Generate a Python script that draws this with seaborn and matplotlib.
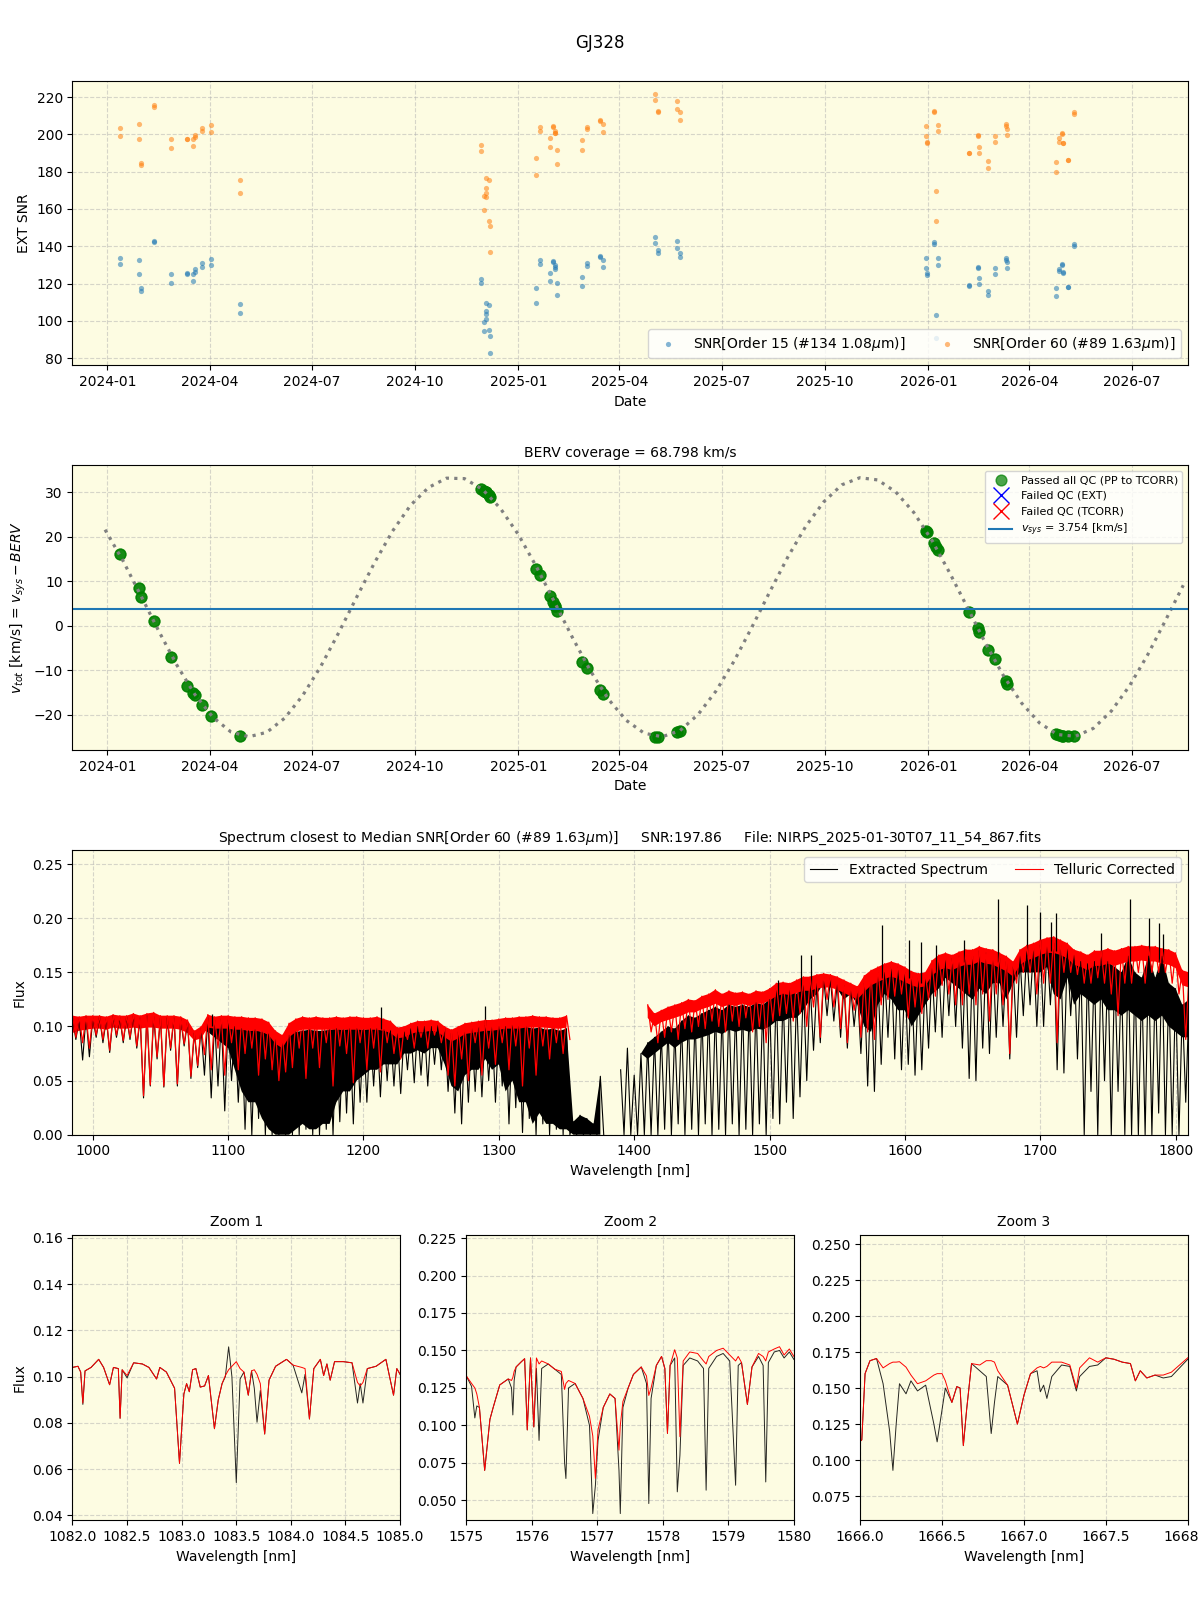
import matplotlib
matplotlib.use('Agg')
import matplotlib.pyplot as plt
import matplotlib.dates as mdates
import numpy as np
import pandas as pd
import seaborn as sns

nan = np.nan

# ---- observations, one entry per exposure ----
obs_dates = ['2024-01-12', '2024-01-12', '2024-01-29', '2024-01-29', '2024-01-31', '2024-01-31',
             '2024-02-12', '2024-02-12', '2024-02-27', '2024-02-27', '2024-03-12', '2024-03-12',
             '2024-03-17', '2024-03-17', '2024-03-19', '2024-03-19', '2024-03-25', '2024-03-25',
             '2024-04-02', '2024-04-02', '2024-04-28', '2024-04-28',
             '2024-11-29', '2024-11-29', '2024-12-01', '2024-12-01', '2024-12-03', '2024-12-03',
             '2024-12-03', '2024-12-03', '2024-12-06', '2024-12-06', '2024-12-07', '2024-12-07',
             '2025-01-17', '2025-01-17', '2025-01-20', '2025-01-20', '2025-01-29', '2025-01-29',
             '2025-02-01', '2025-02-01', '2025-02-03', '2025-02-03', '2025-02-03', '2025-02-04',
             '2025-02-04', '2025-02-27', '2025-02-27', '2025-03-03', '2025-03-03', '2025-03-15',
             '2025-03-15', '2025-03-17', '2025-03-17',
             '2025-05-03', '2025-05-03', '2025-05-05', '2025-05-05', '2025-05-22', '2025-05-22',
             '2025-05-25', '2025-05-25',
             '2025-12-30', '2025-12-30', '2025-12-31', '2025-12-31', '2026-01-06', '2026-01-06',
             '2026-01-08', '2026-01-08', '2026-01-10', '2026-01-10',
             '2026-02-06', '2026-02-06', '2026-02-14', '2026-02-14', '2026-02-15', '2026-02-15',
             '2026-02-23', '2026-02-23', '2026-03-01', '2026-03-01', '2026-03-11', '2026-03-11',
             '2026-03-12', '2026-03-12',
             '2026-04-25', '2026-04-25', '2026-04-27', '2026-04-27', '2026-04-30', '2026-04-30',
             '2026-05-01', '2026-05-01', '2026-05-05', '2026-05-05', '2026-05-11', '2026-05-11']

snr_order15 = [133.8, 130.5, 132.7, 125.2, 117.7, 116.1, 142.7, 142.3, 125.2, 120.4, 125.7, 125.4,
               125.2, 121.4, 126.4, 127.9, 131.1, 128.9, 133.2, 130.0, 109.1, 104.3,
               122.7, 120.4, 99.6, 94.4, 109.8, 105.5, 103.6, 101.2, 108.6, 95.2, 92.0, 82.9,
               117.7, 109.6, 132.7, 130.5, 125.7, 121.4, 132.1, 131.4, 129.8, 128.8, 128.0, 120.4,
               113.9, 123.6, 118.8, 130.9, 129.5, 134.6, 134.1, 132.7, 128.9,
               145.0, 141.8, 138.2, 136.4, 142.9, 139.1, 136.4, 134.5,
               133.8, 128.4, 125.7, 124.6, 142.3, 141.4, 103.2, 90.9, 133.8, 130.0,
               119.3, 118.8, 128.9, 128.4, 123.0, 119.8, 115.9, 113.8, 128.4, 125.2, 133.8, 132.7,
               131.4, 128.4,
               117.7, 113.4, 127.9, 126.8, 130.5, 129.8, 126.1, 125.7, 118.4, 118.0, 141.3, 140.2]

snr_order60 = [203.4, 199.1, 205.5, 197.5, 184.8, 183.6, 215.9, 214.8, 197.5, 192.7, 197.5, 197.5,
               197.5, 193.8, 199.8, 198.7, 203.4, 201.6, 205.0, 201.3, 175.5, 168.6,
               194.3, 191.1, 167.0, 159.5, 176.6, 171.3, 168.4, 166.4, 175.7, 153.8, 150.9, 137.0,
               187.3, 178.2, 204.1, 201.8, 198.0, 193.2, 204.5, 203.8, 201.6, 200.9, 200.5, 191.6,
               184.1, 197.0, 191.6, 204.1, 202.9, 207.9, 207.3, 205.5, 201.3,
               221.6, 218.4, 212.5, 212.0, 217.9, 213.6, 212.0, 207.7,
               204.5, 199.1, 195.9, 195.5, 212.5, 212.0, 169.6, 153.6, 205.0, 201.6,
               190.2, 190.0, 199.6, 199.1, 193.2, 190.2, 185.7, 182.0, 199.1, 195.9, 205.5, 204.6,
               202.9, 199.6,
               185.2, 179.8, 198.0, 195.9, 200.7, 200.2, 195.5, 195.2, 186.3, 186.0, 212.0, 210.9]

v_tot = [16.2, 16.2, 8.4, 8.4, 6.5, 6.5, 1.1, 1.1, -7.0, -7.0, -13.5, -13.5,
         -15.1, -15.1, -15.6, -15.6, -17.8, -17.8, -20.3, -20.3, -24.8, -24.8,
         30.7, 30.7, 30.3, 30.3, 30.0, 30.0, 30.0, 30.0, 29.4, 29.4, 28.9, 28.9,
         12.7, 12.7, 11.4, 11.4, 6.6, 6.6, 5.3, 5.3, 4.4, 4.4, 4.4, 3.4,
         3.4, -8.2, -8.2, -9.5, -9.5, -14.5, -14.5, -15.3, -15.3,
         -25.0, -25.0, -25.1, -25.1, -23.9, -23.9, -23.6, -23.6,
         21.4, 21.4, 21.0, 21.0, 18.5, 18.5, 17.6, 17.6, 17.0, 17.0,
         3.1, 3.1, -0.5, -0.5, -1.4, -1.4, -5.4, -5.4, -7.4, -7.4, -12.5, -12.5,
         -13.2, -13.2,
         -24.4, -24.4, -24.5, -24.5, -24.8, -24.8, -24.8, -24.8, -24.9, -24.9, -24.8, -24.8]

# BERV model curve, one value every 16 days from 2023-12-30
berv_curve = [21.6, 14.6, 6.7, -1.3, -8.9, -15.5, -20.6, -23.9, -25.0, -24.0,
              -20.8, -15.7, -9.2, -1.6, 6.4, 14.2, 21.3, 27.1, 31.1, 33.2,
              33.1, 30.7, 26.4, 20.5, 13.3, 5.4, -2.6, -10.1, -16.5, -21.3,
              -24.2, -25.0, -23.6, -20.0, -14.7, -8.0, -0.3, 7.7, 15.5, 22.4,
              27.9, 31.7, 33.3, 32.8, 30.1, 25.5, 19.3, 11.9, 4.0, -4.0,
              -11.3, -17.4, -21.9, -24.5, -24.9, -23.1, -19.2, -13.6, -6.7, 1.1,
              9.1]
v_sys = 3.754

# ---- spectrum closest to median SNR, read on 5 nm knots ----
# upper = top of the band, core = bottom of the dense part, lower = deepest line
spec_knots = np.arange(985, 1811, 5)
ext_upper = [0.108, 0.107, 0.109, 0.108, 0.109, 0.107, 0.110, 0.108, 0.109, 0.110,
             0.108, 0.110, 0.109, 0.108, 0.108, 0.108, 0.107, 0.104, 0.094, 0.098,
             0.108, 0.106, 0.107, 0.106, 0.100, 0.098, 0.096, 0.097, 0.095, 0.093,
             0.088, 0.085, 0.092, 0.095, 0.096, 0.097, 0.096, 0.096, 0.097, 0.098,
             0.097, 0.098, 0.098, 0.097, 0.098, 0.098, 0.097, 0.096, 0.094, 0.095,
             0.098, 0.100, 0.100, 0.100, 0.101, 0.098, 0.094, 0.095, 0.097, 0.099,
             0.100, 0.101, 0.100, 0.100, 0.100, 0.101, 0.100, 0.100, 0.098, 0.099,
             0.097, 0.098, 0.096, 0.098, 0.012, 0.018, 0.015, 0.010, 0.054, nan,
             nan, 0.060, 0.080, 0.055, 0.075, 0.085, 0.090, 0.095, 0.100, 0.098,
             0.105, 0.110, 0.108, 0.112, 0.115, 0.118, 0.115, 0.120, 0.118, 0.120,
             0.118, 0.122, 0.120, 0.125, 0.135, 0.130, 0.135, 0.130, 0.140, 0.140,
             0.140, 0.145, 0.145, 0.140, 0.138, 0.135, 0.133, 0.140, 0.145, 0.150,
             0.150, 0.155, 0.155, 0.150, 0.146, 0.145, 0.145, 0.155, 0.160, 0.162,
             0.163, 0.165, 0.165, 0.165, 0.170, 0.168, 0.165, 0.163, 0.160, 0.155,
             0.165, 0.170, 0.172, 0.175, 0.176, 0.177, 0.175, 0.172, 0.166, 0.160,
             0.158, 0.160, 0.163, 0.160, 0.155, 0.150, 0.165, 0.150, 0.145, 0.165,
             0.145, 0.165, 0.140, 0.135, 0.120, 0.125]
ext_core = [0.108, 0.107, 0.109, 0.108, 0.109, 0.107, 0.110, 0.108, 0.109, 0.110,
            0.108, 0.110, 0.109, 0.108, 0.108, 0.108, 0.107, 0.104, 0.094, 0.098,
            0.095, 0.090, 0.085, 0.080, 0.060, 0.040, 0.030, 0.030, 0.015, 0.005,
            0.000, 0.000, 0.000, 0.005, 0.010, 0.005, 0.005, 0.010, 0.010, 0.030,
            0.040, 0.040, 0.050, 0.055, 0.060, 0.060, 0.065, 0.065, 0.065, 0.075,
            0.075, 0.078, 0.075, 0.080, 0.080, 0.065, 0.045, 0.040, 0.055, 0.060,
            0.060, 0.070, 0.060, 0.065, 0.040, 0.050, 0.030, 0.030, 0.010, 0.020,
            0.010, 0.010, 0.005, 0.005, 0.000, 0.000, 0.000, 0.000, 0.000, nan,
            nan, 0.060, 0.080, 0.055, 0.075, 0.070, 0.075, 0.080, 0.085, 0.080,
            0.085, 0.088, 0.088, 0.090, 0.092, 0.095, 0.093, 0.097, 0.095, 0.097,
            0.095, 0.098, 0.097, 0.100, 0.105, 0.105, 0.108, 0.108, 0.115, 0.125,
            0.130, 0.140, 0.140, 0.135, 0.125, 0.130, 0.120, 0.100, 0.095, 0.120,
            0.130, 0.125, 0.115, 0.115, 0.100, 0.110, 0.120, 0.130, 0.135, 0.145,
            0.140, 0.135, 0.130, 0.125, 0.135, 0.130, 0.140, 0.140, 0.125, 0.140,
            0.150, 0.150, 0.150, 0.150, 0.155, 0.130, 0.125, 0.145, 0.120, 0.130,
            0.125, 0.120, 0.125, 0.115, 0.115, 0.110, 0.115, 0.110, 0.105, 0.110,
            0.105, 0.110, 0.100, 0.095, 0.090, 0.090]
ext_lower = [0.088, 0.069, 0.072, 0.090, 0.085, 0.076, 0.090, 0.085, 0.088, 0.080,
             0.034, 0.045, 0.070, 0.044, 0.078, 0.045, 0.082, 0.052, 0.062, 0.055,
             0.034, 0.045, 0.022, 0.050, 0.030, 0.005, 0.000, 0.015, 0.000, 0.000,
             0.000, 0.000, 0.000, 0.000, 0.005, 0.000, 0.000, 0.005, 0.000, 0.012,
             0.020, 0.010, 0.030, 0.030, 0.045, 0.035, 0.050, 0.045, 0.038, 0.060,
             0.048, 0.055, 0.045, 0.065, 0.060, 0.040, 0.020, 0.010, 0.030, 0.040,
             0.035, 0.050, 0.030, 0.045, 0.010, 0.025, 0.002, 0.015, 0.000, 0.010,
             0.000, 0.005, 0.000, 0.000, 0.000, 0.000, 0.000, 0.000, 0.000, nan,
             nan, 0.000, 0.000, 0.000, 0.000, 0.000, 0.000, 0.005, 0.000, 0.010,
             0.000, 0.005, 0.000, 0.010, 0.000, 0.005, 0.000, 0.010, 0.000, 0.005,
             0.000, 0.010, 0.000, 0.015, 0.010, 0.030, 0.015, 0.035, 0.050, 0.078,
             0.085, 0.110, 0.105, 0.090, 0.080, 0.100, 0.075, 0.045, 0.040, 0.065,
             0.090, 0.070, 0.060, 0.065, 0.055, 0.060, 0.080, 0.095, 0.090, 0.110,
             0.100, 0.080, 0.052, 0.050, 0.080, 0.075, 0.090, 0.100, 0.070, 0.090,
             0.110, 0.120, 0.100, 0.100, 0.120, 0.060, 0.057, 0.110, 0.070, 0.000,
             0.040, 0.000, 0.050, 0.000, 0.040, 0.000, 0.000, 0.000, 0.000, 0.000,
             0.020, 0.000, 0.000, 0.000, 0.030, 0.000]
tel_upper = [0.110, 0.109, 0.110, 0.110, 0.110, 0.109, 0.111, 0.110, 0.110, 0.112,
             0.110, 0.112, 0.113, 0.110, 0.110, 0.110, 0.109, 0.106, 0.096, 0.100,
             0.111, 0.109, 0.110, 0.110, 0.109, 0.109, 0.108, 0.108, 0.107, 0.104,
             0.096, 0.092, 0.103, 0.107, 0.109, 0.108, 0.109, 0.108, 0.108, 0.109,
             0.108, 0.109, 0.109, 0.108, 0.108, 0.109, 0.107, 0.105, 0.099, 0.100,
             0.103, 0.105, 0.105, 0.106, 0.105, 0.100, 0.097, 0.100, 0.103, 0.104,
             0.105, 0.106, 0.106, 0.107, 0.108, 0.108, 0.109, 0.109, 0.110, 0.109,
             0.109, 0.108, 0.108, 0.110, nan, nan, nan, nan, nan, nan,
             nan, nan, nan, nan, nan, 0.120, 0.112, 0.115, 0.118, 0.120,
             0.122, 0.125, 0.124, 0.128, 0.130, 0.134, 0.130, 0.133, 0.131, 0.132,
             0.130, 0.133, 0.132, 0.135, 0.140, 0.141, 0.140, 0.143, 0.146, 0.146,
             0.148, 0.149, 0.148, 0.146, 0.143, 0.140, 0.137, 0.147, 0.152, 0.155,
             0.158, 0.160, 0.158, 0.155, 0.151, 0.149, 0.150, 0.161, 0.166, 0.168,
             0.166, 0.169, 0.171, 0.171, 0.174, 0.172, 0.171, 0.168, 0.165, 0.160,
             0.171, 0.175, 0.177, 0.180, 0.182, 0.183, 0.180, 0.177, 0.171, 0.169,
             0.166, 0.170, 0.170, 0.172, 0.170, 0.172, 0.174, 0.174, 0.175, 0.174,
             0.174, 0.172, 0.171, 0.168, 0.152, 0.150]
tel_core = [0.094, 0.096, 0.097, 0.098, 0.098, 0.097, 0.099, 0.098, 0.098, 0.099,
            0.098, 0.099, 0.099, 0.098, 0.098, 0.098, 0.097, 0.094, 0.087, 0.089,
            0.099, 0.098, 0.098, 0.098, 0.097, 0.097, 0.096, 0.096, 0.095, 0.092,
            0.084, 0.080, 0.090, 0.095, 0.097, 0.097, 0.097, 0.097, 0.097, 0.097,
            0.097, 0.097, 0.097, 0.097, 0.097, 0.097, 0.096, 0.094, 0.089, 0.090,
            0.093, 0.095, 0.095, 0.096, 0.095, 0.090, 0.086, 0.089, 0.093, 0.094,
            0.095, 0.096, 0.096, 0.097, 0.098, 0.098, 0.098, 0.099, 0.099, 0.099,
            0.099, 0.098, 0.098, 0.099, nan, nan, nan, nan, nan, nan,
            nan, nan, nan, nan, nan, 0.108, 0.100, 0.104, 0.106, 0.108,
            0.110, 0.113, 0.113, 0.116, 0.118, 0.121, 0.118, 0.120, 0.119, 0.121,
            0.119, 0.121, 0.121, 0.124, 0.128, 0.130, 0.129, 0.131, 0.133, 0.133,
            0.135, 0.136, 0.136, 0.134, 0.131, 0.128, 0.125, 0.132, 0.138, 0.141,
            0.144, 0.146, 0.144, 0.141, 0.138, 0.136, 0.137, 0.147, 0.152, 0.154,
            0.152, 0.155, 0.157, 0.157, 0.160, 0.158, 0.157, 0.154, 0.151, 0.146,
            0.157, 0.161, 0.163, 0.166, 0.168, 0.168, 0.166, 0.163, 0.157, 0.155,
            0.152, 0.156, 0.156, 0.158, 0.156, 0.158, 0.160, 0.160, 0.161, 0.160,
            0.160, 0.158, 0.157, 0.154, 0.138, 0.136]
tel_lower = [0.090, 0.085, 0.080, 0.092, 0.088, 0.078, 0.092, 0.087, 0.090, 0.082,
             0.036, 0.046, 0.072, 0.045, 0.080, 0.047, 0.084, 0.054, 0.064, 0.074,
             0.060, 0.080, 0.055, 0.085, 0.060, 0.075, 0.080, 0.055, 0.070, 0.060,
             0.050, 0.058, 0.062, 0.080, 0.052, 0.080, 0.062, 0.085, 0.045, 0.082,
             0.075, 0.048, 0.085, 0.060, 0.080, 0.058, 0.085, 0.075, 0.070, 0.088,
             0.080, 0.090, 0.080, 0.092, 0.085, 0.055, 0.045, 0.070, 0.050, 0.085,
             0.055, 0.080, 0.065, 0.085, 0.060, 0.082, 0.045, 0.080, 0.055, 0.082,
             0.070, 0.085, 0.075, 0.088, nan, nan, nan, nan, nan, nan,
             nan, nan, nan, nan, nan, 0.095, 0.085, 0.090, 0.095, 0.088,
             0.098, 0.095, 0.100, 0.098, 0.105, 0.100, 0.095, 0.105, 0.100, 0.108,
             0.095, 0.100, 0.085, 0.105, 0.110, 0.112, 0.105, 0.112, 0.100, 0.118,
             0.090, 0.125, 0.118, 0.098, 0.085, 0.115, 0.090, 0.095, 0.088, 0.120,
             0.125, 0.128, 0.130, 0.108, 0.118, 0.112, 0.125, 0.128, 0.138, 0.130,
             0.120, 0.120, 0.130, 0.120, 0.130, 0.105, 0.130, 0.120, 0.075, 0.140,
             0.150, 0.150, 0.130, 0.140, 0.140, 0.085, 0.150, 0.150, 0.148, 0.140,
             0.140, 0.145, 0.140, 0.130, 0.110, 0.140, 0.140, 0.150, 0.140, 0.150,
             0.150, 0.150, 0.140, 0.130, 0.088, 0.138]

# single extracted-spectrum spikes standing above the band
spike_wl = [1088, 1213, 1290, 1506, 1523, 1531, 1583, 1603, 1612, 1623,
            1644, 1669, 1690, 1700, 1708, 1712, 1745, 1766, 1780, 1788, 1791]
spike_base = [0.100, 0.098, 0.100, 0.125, 0.130, 0.135, 0.145, 0.145, 0.140, 0.150,
              0.160, 0.160, 0.165, 0.170, 0.170, 0.170, 0.160, 0.160, 0.160, 0.160, 0.160]
spike_top = [0.112, 0.118, 0.119, 0.143, 0.166, 0.166, 0.194, 0.180, 0.178, 0.175,
             0.180, 0.218, 0.212, 0.206, 0.197, 0.205, 0.186, 0.218, 0.200, 0.196, 0.185]

# ---- zoom windows ----
z1_wl = [1082.00, 1082.05, 1082.075, 1082.095, 1082.115, 1082.17, 1082.24, 1082.285, 1082.34, 1082.375,
         1082.42, 1082.436, 1082.455, 1082.50, 1082.56, 1082.64, 1082.70, 1082.77, 1082.80, 1082.86,
         1082.935, 1082.98, 1083.02, 1083.045, 1083.07, 1083.10, 1083.13, 1083.17, 1083.21, 1083.245,
         1083.30, 1083.335, 1083.37, 1083.40, 1083.43, 1083.46, 1083.50, 1083.535, 1083.57, 1083.61,
         1083.64, 1083.665, 1083.69, 1083.72, 1083.76, 1083.80, 1083.86, 1083.96, 1084.02, 1084.10,
         1084.13, 1084.17, 1084.21, 1084.27, 1084.30, 1084.33, 1084.36, 1084.40, 1084.48, 1084.56,
         1084.61, 1084.635, 1084.66, 1084.70, 1084.78, 1084.87, 1084.94, 1084.97, 1085.00]
z1_tel = [0.104, 0.1045, 0.102, 0.0886, 0.1025, 0.104, 0.1075, 0.104, 0.0965, 0.104,
          0.1035, 0.082, 0.103, 0.1005, 0.106, 0.1055, 0.104, 0.099, 0.104, 0.102,
          0.095, 0.0625, 0.0925, 0.097, 0.0935, 0.103, 0.1035, 0.0955, 0.096, 0.1005,
          0.0775, 0.090, 0.097, 0.1005, 0.103, 0.1045, 0.1065, 0.1035, 0.102, 0.092,
          0.1025, 0.103, 0.101, 0.097, 0.0752, 0.0985, 0.1045, 0.1075, 0.105, 0.104,
          0.1035, 0.0817, 0.1035, 0.1075, 0.1005, 0.1055, 0.0985, 0.1065, 0.1065, 0.106,
          0.0975, 0.096, 0.0975, 0.1035, 0.1045, 0.1075, 0.092, 0.1035, 0.101]
z1_ext = [0.104, 0.1045, 0.102, 0.088, 0.1025, 0.104, 0.1075, 0.104, 0.0965, 0.104,
          0.1035, 0.082, 0.103, 0.0995, 0.106, 0.1055, 0.104, 0.099, 0.104, 0.102,
          0.095, 0.0625, 0.0925, 0.097, 0.0935, 0.103, 0.1035, 0.0955, 0.096, 0.1005,
          0.0775, 0.090, 0.097, 0.100, 0.1129, 0.100, 0.0542, 0.099, 0.102, 0.092,
          0.1025, 0.095, 0.0803, 0.094, 0.0752, 0.0985, 0.1045, 0.1075, 0.105, 0.093,
          0.101, 0.0817, 0.1035, 0.1075, 0.1005, 0.1055, 0.0985, 0.1065, 0.1065, 0.106,
          0.0886, 0.097, 0.0886, 0.1035, 0.1045, 0.1075, 0.092, 0.1035, 0.101]

z2_wl = [1575.00, 1575.08, 1575.13, 1575.16, 1575.20, 1575.28, 1575.36, 1575.41, 1575.51, 1575.64,
         1575.69, 1575.71, 1575.73, 1575.76, 1575.84, 1575.89, 1575.93, 1575.98, 1576.03, 1576.07,
         1576.11, 1576.15, 1576.25, 1576.35, 1576.45, 1576.50, 1576.52, 1576.56, 1576.66, 1576.78,
         1576.88, 1576.93, 1576.97, 1577.01, 1577.09, 1577.19, 1577.27, 1577.33, 1577.35, 1577.39,
         1577.47, 1577.55, 1577.67, 1577.75, 1577.785, 1577.82, 1577.90, 1577.98, 1578.03, 1578.07,
         1578.11, 1578.18, 1578.22, 1578.26, 1578.31, 1578.41, 1578.53, 1578.62, 1578.66, 1578.70,
         1578.82, 1578.92, 1579.02, 1579.11, 1579.15, 1579.20, 1579.29, 1579.36, 1579.46, 1579.53,
         1579.57, 1579.61, 1579.70, 1579.78, 1579.85, 1579.93, 1580.00]
z2_tel = [0.133, 0.128, 0.125, 0.121, 0.112, 0.070, 0.104, 0.112, 0.127, 0.131,
          0.130, 0.132, 0.136, 0.139, 0.1425, 0.1445, 0.097, 0.145, 0.099, 0.145,
          0.141, 0.143, 0.141, 0.1375, 0.136, 0.124, 0.128, 0.130, 0.128, 0.118,
          0.106, 0.093, 0.0646, 0.097, 0.112, 0.121, 0.118, 0.0835, 0.100, 0.116,
          0.125, 0.134, 0.139, 0.133, 0.120, 0.125, 0.140, 0.146, 0.138, 0.0947,
          0.140, 0.1505, 0.145, 0.0925, 0.143, 0.149, 0.148, 0.143, 0.141, 0.146,
          0.150, 0.1515, 0.147, 0.143, 0.146, 0.142, 0.114, 0.139, 0.148, 0.146,
          0.143, 0.149, 0.151, 0.1525, 0.147, 0.151, 0.146]
z2_ext = [0.133, 0.126, 0.105, 0.113, 0.112, 0.070, 0.104, 0.112, 0.127, 0.131,
          0.125, 0.107, 0.130, 0.139, 0.1425, 0.1445, 0.097, 0.145, 0.099, 0.138,
          0.090, 0.138, 0.141, 0.1375, 0.134, 0.075, 0.0646, 0.125, 0.128, 0.118,
          0.100, 0.0412, 0.060, 0.090, 0.112, 0.121, 0.118, 0.070, 0.0412, 0.112,
          0.125, 0.134, 0.139, 0.128, 0.0479, 0.118, 0.140, 0.146, 0.138, 0.0947,
          0.140, 0.145, 0.0557, 0.080, 0.140, 0.145, 0.143, 0.138, 0.0568, 0.138,
          0.146, 0.148, 0.143, 0.0601, 0.140, 0.142, 0.114, 0.139, 0.146, 0.140,
          0.0623, 0.142, 0.149, 0.150, 0.145, 0.149, 0.144]

z3_wl = [1666.00, 1666.01, 1666.03, 1666.06, 1666.10, 1666.14, 1666.18, 1666.20, 1666.22, 1666.24,
         1666.28, 1666.31, 1666.35, 1666.40, 1666.45, 1666.47, 1666.50, 1666.52, 1666.56, 1666.59,
         1666.61, 1666.63, 1666.65, 1666.68, 1666.73, 1666.77, 1666.80, 1666.82, 1666.84, 1666.90,
         1666.96, 1667.00, 1667.04, 1667.08, 1667.10, 1667.12, 1667.14, 1667.17, 1667.23, 1667.28,
         1667.32, 1667.34, 1667.40, 1667.45, 1667.50, 1667.55, 1667.60, 1667.65, 1667.68, 1667.71,
         1667.75, 1667.80, 1667.85, 1667.90, 1667.95, 1668.00]
z3_tel = [0.113, 0.114, 0.160, 0.169, 0.1705, 0.164, 0.167, 0.168, 0.168, 0.1683,
          0.1645, 0.159, 0.153, 0.155, 0.159, 0.160, 0.160, 0.155, 0.140, 0.151,
          0.150, 0.110, 0.135, 0.167, 0.166, 0.169, 0.169, 0.168, 0.162, 0.152,
          0.125, 0.145, 0.160, 0.164, 0.165, 0.164, 0.165, 0.168, 0.168, 0.166,
          0.150, 0.164, 0.171, 0.168, 0.171, 0.170, 0.168, 0.167, 0.155, 0.162,
          0.157, 0.159, 0.159, 0.161, 0.166, 0.171]
z3_ext = [0.113, 0.114, 0.160, 0.169, 0.1705, 0.153, 0.120, 0.0928, 0.125, 0.153,
          0.146, 0.155, 0.148, 0.152, 0.125, 0.1126, 0.135, 0.150, 0.140, 0.151,
          0.150, 0.110, 0.135, 0.167, 0.162, 0.158, 0.1184, 0.140, 0.158, 0.152,
          0.125, 0.145, 0.160, 0.162, 0.1474, 0.152, 0.1428, 0.158, 0.166, 0.165,
          0.148, 0.158, 0.165, 0.166, 0.171, 0.170, 0.168, 0.167, 0.155, 0.162,
          0.157, 0.159, 0.157, 0.158, 0.164, 0.170]

BG = '#fdfce2'


def zigzag(knots, upper, lower):
    # band top at each knot, deepest line half a step later
    x = np.column_stack([knots, knots + 2.5]).ravel()
    y = np.column_stack([upper, lower]).ravel()
    return x, y


def style_axis(ax):
    ax.set_facecolor(BG)
    ax.grid(True, linestyle='--', alpha=0.5)
    ax.set_axisbelow(True)


def date_axis(ax):
    ax.xaxis.set_major_locator(mdates.MonthLocator(bymonth=[1, 4, 7, 10]))
    ax.xaxis.set_major_formatter(mdates.DateFormatter('%Y-%m'))
    ax.set_xlim(pd.Timestamp('2023-12-01'), pd.Timestamp('2026-08-20'))
    ax.set_xlabel('Date')


def snr_panel(ax, dates):
    style_axis(ax)
    sns.scatterplot(x=dates, y=snr_order15, s=14, alpha=0.55, color='tab:blue', linewidth=0,
                    label='SNR[Order 15 (#134 1.08$\\mu$m)]', ax=ax)
    sns.scatterplot(x=dates, y=snr_order60, s=14, alpha=0.55, color='tab:orange', linewidth=0,
                    label='SNR[Order 60 (#89 1.63$\\mu$m)]', ax=ax)
    ax.set_ylim(76.2, 228.8)
    ax.set_ylabel('EXT SNR')
    date_axis(ax)
    ax.legend(loc='lower right', ncol=2, fontsize=10)


def berv_panel(ax, dates):
    style_axis(ax)
    curve_dates = pd.date_range('2023-12-30', periods=len(berv_curve), freq='16D')
    sns.lineplot(x=curve_dates, y=berv_curve, color='gray', linestyle=':', linewidth=2.3, ax=ax)
    sns.scatterplot(x=dates, y=v_tot, s=60, color='green', alpha=0.7, edgecolor='green',
                    linewidth=1, label='Passed all QC (PP to TCORR)', ax=ax)
    ax.plot([], [], 'x', color='blue', ms=11, label='Failed QC (EXT)')
    ax.plot([], [], 'x', color='red', ms=11, label='Failed QC (TCORR)')
    ax.axhline(v_sys, color='tab:blue', lw=1.5, label='$v_{sys}$ = %.3f [km/s]' % v_sys)
    ax.set_ylim(-28.0, 36.1)
    ax.set_title('BERV coverage = 68.798 km/s', fontsize=10)
    ax.set_ylabel('$v_{tot}$ [km/s] = $v_{sys} - BERV$')
    date_axis(ax)
    ax.legend(loc='upper right', fontsize=8)


def spectrum_panel(ax):
    style_axis(ax)
    xe, ye = zigzag(spec_knots, ext_upper, ext_lower)
    xt, yt = zigzag(spec_knots, tel_upper, tel_lower)
    # extracted spectrum: dense band, lines and lone spikes
    ax.fill_between(spec_knots, ext_core, ext_upper, color='black', lw=0)
    ax.plot(xe, ye, color='black', lw=0.8, label='Extracted Spectrum')
    ax.vlines(spike_wl, spike_base, spike_top, color='black', lw=0.9)
    # telluric corrected on top
    ax.fill_between(spec_knots, tel_core, tel_upper, color='red', lw=0)
    ax.plot(xt, yt, color='red', lw=0.9, label='Telluric Corrected')
    ax.set_xlim(985, 1809)
    ax.set_ylim(0, 0.263)
    ax.set_xlabel('Wavelength [nm]')
    ax.set_ylabel('Flux')
    ax.set_title('Spectrum closest to Median SNR[Order 60 (#89 1.63$\\mu$m)]     SNR:197.86     '
                 'File: NIRPS_2025-01-30T07_11_54_867.fits', fontsize=10)
    leg = ax.legend(loc='upper right', ncol=2, fontsize=10)
    for line in leg.get_lines():
        line.set_linewidth(0.8)


def zoom_panel(ax, wl, ext, tel, xlim, ylim, title):
    style_axis(ax)
    ax.plot(wl, ext, color='black', lw=0.7, alpha=0.85)
    ax.plot(wl, tel, color='red', lw=0.7)
    ax.set_xlim(*xlim)
    ax.set_ylim(*ylim)
    ax.set_title(title, fontsize=10)
    ax.set_xlabel('Wavelength [nm]')


fig = plt.figure(figsize=(12, 16), dpi=100)
fig.suptitle('GJ328', fontsize=12, y=0.979)

dates = pd.to_datetime(pd.Series(obs_dates))

ax_snr = fig.add_axes([0.0604, 0.7717, 0.9294, 0.1779])
ax_berv = fig.add_axes([0.0604, 0.5312, 0.9294, 0.1780])
ax_spec = fig.add_axes([0.0604, 0.2908, 0.9294, 0.1779])
ax_z1 = fig.add_axes([0.0604, 0.0497, 0.2730, 0.1786])
ax_z2 = fig.add_axes([0.3886, 0.0497, 0.2730, 0.1786])
ax_z3 = fig.add_axes([0.7168, 0.0497, 0.2730, 0.1786])

snr_panel(ax_snr, dates)
berv_panel(ax_berv, dates)
spectrum_panel(ax_spec)
zoom_panel(ax_z1, z1_wl, z1_ext, z1_tel, (1082, 1085), (0.0378, 0.1614), 'Zoom 1')
zoom_panel(ax_z2, z2_wl, z2_ext, z2_tel, (1575, 1580), (0.0366, 0.2272), 'Zoom 2')
zoom_panel(ax_z3, z3_wl, z3_ext, z3_tel, (1666, 1668), (0.058, 0.2565), 'Zoom 3')
ax_z1.set_ylabel('Flux')

fig.savefig('out.png', dpi=100)
